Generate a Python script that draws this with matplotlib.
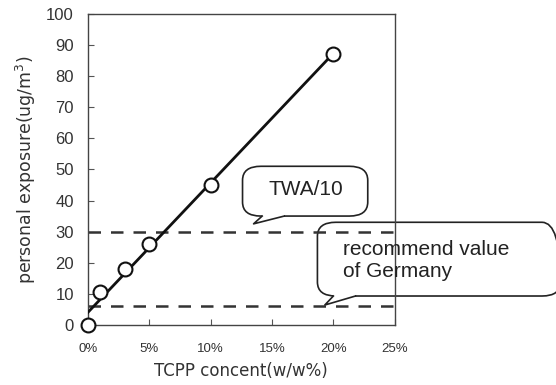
import numpy as np
import matplotlib
matplotlib.use("Agg")
import matplotlib.pyplot as plt
from matplotlib.patches import FancyBboxPatch
from matplotlib.ticker import FuncFormatter

conc = [0, 1, 3, 5, 10, 20]
exposure = [0, 10.5, 18, 26, 45, 87]
twa10 = 30
germany = 6
xticks = [0, 5, 10, 15, 20, 25]
yticks = [0, 10, 20, 30, 40, 50, 60, 70, 80, 90, 100]

plt.rcParams['font.family'] = ['Liberation Sans', 'DejaVu Sans']
fig = plt.figure(figsize=(5.56, 3.85), dpi=100)
ax = fig.add_axes([0.158, 0.156, 0.552, 0.808])

slope, intercept = np.polyfit(conc, exposure, 1)
fx = np.array([0, max(conc)])
ax.plot(fx, slope * fx + intercept, color='#111111', lw=2.0, zorder=3)
ax.plot(conc, exposure, 'o', ms=10, mfc='white', mec='#111111', mew=1.5, clip_on=False, zorder=4)

ax.plot([0, 25], [twa10, twa10], color='#333333', lw=1.8, ls=(0, (5, 4)), zorder=2)
ax.plot([0, 25], [germany, germany], color='#333333', lw=1.8, ls=(0, (5, 4)), zorder=2)

ax.set_xlim(0, 25)
ax.set_ylim(0, 100)
ax.set_xticks(xticks)
ax.set_yticks(yticks)
ax.xaxis.set_major_formatter(FuncFormatter(lambda v, p: f"{int(v)}%"))
ax.tick_params(direction='in', length=4, color='#555555', labelcolor='#333333')
ax.tick_params(axis='y', labelsize=12, pad=10)
ax.tick_params(axis='x', labelsize=9.5, pad=13)
for s in ax.spines.values():
    s.set_color('#444444')
    s.set_linewidth(1.0)

ax.set_xlabel('TCPP concent(w/w%)', fontsize=12, labelpad=5, color='#333333',
              family='DejaVu Sans')
ax.set_ylabel('personal exposure(ug/m$^3$)', fontsize=12.5, labelpad=6, color='#333333',
              family='DejaVu Sans')


def callout(x0, y0, x1, y1, tail, text, tx, ty, ha, fs):
    box = FancyBboxPatch((x0, y0), x1 - x0, y1 - y0,
                         boxstyle="round,pad=0,rounding_size=1.5",
                         mutation_aspect=3.0,
                         fc='none', ec='#222222', lw=1.2, clip_on=False, zorder=1.2)
    ax.add_patch(box)
    (bx0, tipx, tipy, bx1) = tail
    ax.plot([bx0, bx1], [y0, y0], color='white', lw=2.6, clip_on=False,
            solid_capstyle='butt', zorder=1.3)
    ax.plot([bx0, tipx, bx1], [y0, tipy, y0], color='#222222', lw=1.2, clip_on=False, zorder=1.4)
    ax.text(tx, ty, text, ha=ha, va='center', fontsize=fs, color='#222222', zorder=8, linespacing=1.2)


callout(12.6, 35, 22.8, 51, (14.2, 13.5, 32.5, 16.0), 'TWA/10', 17.75, 43.4, 'center', 15)
callout(18.7, 9.3, 38.5, 33, (20.0, 19.3, 6.4, 21.8), 'recommend value\nof Germany', 20.8, 20.8, 'left', 15)

fig.savefig('out.png', dpi=100, facecolor='white')
